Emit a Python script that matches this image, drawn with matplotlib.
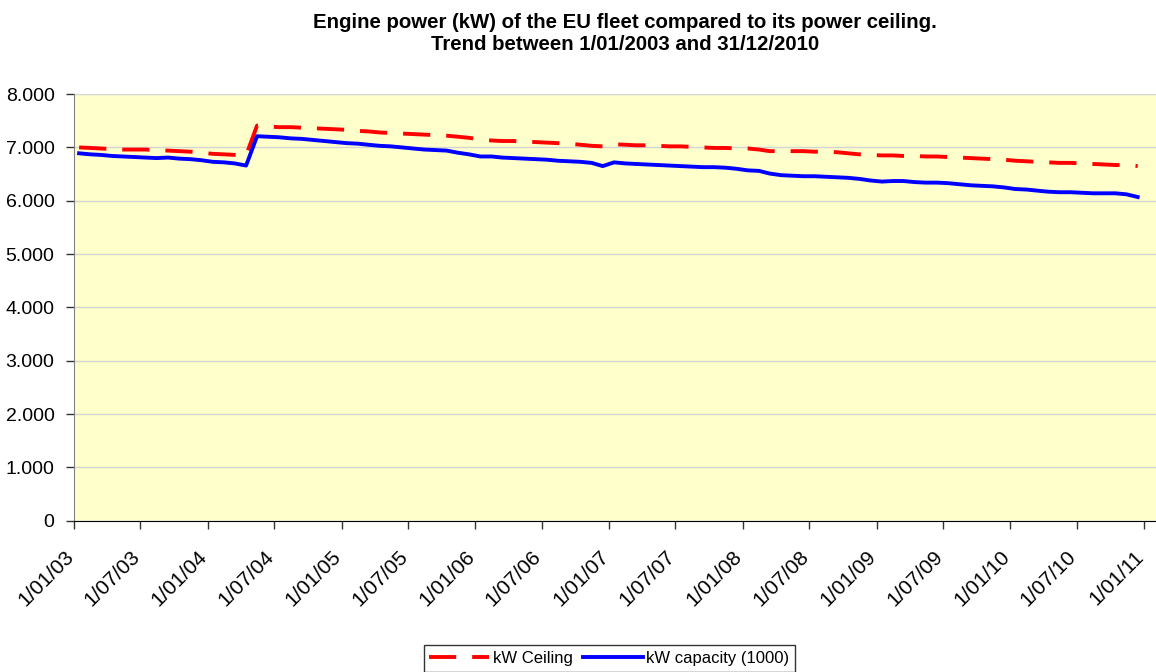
import numpy as np
import pandas as pd
import matplotlib
matplotlib.use('Agg')
import matplotlib.pyplot as plt
import matplotlib.dates as mdates
import matplotlib.ticker as mticker
import matplotlib.transforms as mtrans

plt.rcParams['font.family'] = ['Liberation Sans', 'DejaVu Sans']

# monthly values, Jan 2003 .. Dec 2010 (in 1000 kW), plotted mid-month
months = pd.date_range('2003-01-01', periods=96, freq='MS') + pd.Timedelta(days=14)

ceiling = [
    7000, 6990, 6980, 6970, 6960, 6960, 6960, 6950, 6940, 6930, 6920, 6900,
    6880, 6870, 6860, 6850, 7410, 7390, 7380, 7380, 7370, 7360, 7350, 7340,
    7330, 7310, 7300, 7280, 7270, 7260, 7250, 7240, 7230, 7220, 7200, 7180,
    7150, 7130, 7120, 7120, 7110, 7100, 7090, 7080, 7070, 7050, 7030, 7020,
    7060, 7050, 7040, 7040, 7030, 7020, 7020, 7010, 7000, 6990, 6990, 6980,
    6980, 6960, 6930, 6930, 6930, 6930, 6920, 6920, 6910, 6890, 6870, 6860,
    6850, 6850, 6840, 6840, 6830, 6830, 6820, 6810, 6800, 6790, 6780, 6770,
    6750, 6740, 6730, 6720, 6710, 6710, 6700, 6690, 6680, 6670, 6670, 6650,
]
capacity = [
    6890, 6870, 6860, 6840, 6830, 6820, 6810, 6800, 6810, 6790, 6780, 6760,
    6730, 6720, 6700, 6660, 7210, 7200, 7190, 7170, 7160, 7140, 7120, 7100,
    7080, 7070, 7050, 7030, 7020, 7000, 6980, 6960, 6950, 6940, 6900, 6870,
    6830, 6830, 6810, 6800, 6790, 6780, 6770, 6750, 6740, 6730, 6710, 6650,
    6720, 6700, 6690, 6680, 6670, 6660, 6650, 6640, 6630, 6630, 6620, 6600,
    6570, 6560, 6510, 6480, 6470, 6460, 6460, 6450, 6440, 6430, 6410, 6380,
    6360, 6370, 6370, 6350, 6340, 6340, 6330, 6310, 6290, 6280, 6270, 6250,
    6220, 6210, 6190, 6170, 6160, 6160, 6150, 6140, 6140, 6140, 6120, 6070,
]

title = ('Engine power (kW) of the EU fleet compared to its power ceiling.\n'
         'Trend between 1/01/2003 and 31/12/2010')

fig = plt.figure(figsize=(11.56, 6.72), dpi=100)
ax = fig.add_axes([0.064, 0.225, 0.936, 0.635])
ax.set_facecolor('#FFFFCC')

ax.plot(months, ceiling, color='#FF0000', lw=2.8, dashes=(7, 4.1),
        label='kW Ceiling')
ax.plot(months, capacity, color='#0000FF', lw=2.8, label='kW capacity (1000)')

ax.set_ylim(0, 8000)
ax.yaxis.set_major_locator(mticker.MultipleLocator(1000))
ax.yaxis.set_major_formatter(mticker.FuncFormatter(
    lambda v, p: '{:,.0f}'.format(v).replace(',', '.')))
ax.grid(axis='y', color='#D4D4D4', lw=1)
ax.set_axisbelow(True)

ax.set_xlim(pd.Timestamp('2003-01-01'), pd.Timestamp('2011-02-03'))
ticks = pd.date_range('2003-01-01', '2011-01-01', freq='6MS')
ax.set_xticks(ticks)
ax.set_xticklabels(['1/%02d/%s' % (t.month, t.strftime('%y')) for t in ticks])
ax.tick_params(axis='y', labelsize=14, direction='out', length=6,
               color='#333333', width=1, pad=8)
ax.tick_params(axis='x', labelsize=15, direction='out', length=6,
               color='#333333', width=1, pad=13)
shift = mtrans.ScaledTranslation(-10 / 100, 0, fig.dpi_scale_trans)
for lab in ax.get_xticklabels():
    lab.set_rotation(45)
    lab.set_ha('right')
    lab.set_va('top')
    lab.set_rotation_mode('anchor')
    lab.set_transform(lab.get_transform() + shift)

for s in ['top', 'right']:
    ax.spines[s].set_visible(False)
ax.spines['left'].set_color('#808080')
ax.spines['bottom'].set_color('#000000')

fig.text(0.541, 0.950, title, fontsize=14.7, fontweight='bold',
         ha='center', va='center', linespacing=1.2)

leg = fig.legend(loc='upper center', bbox_to_anchor=(0.527, 0.040), ncol=2,
                 fontsize=12, frameon=True, fancybox=False, handlelength=3.6,
                 handletextpad=0.2, columnspacing=0.6, borderpad=0.35,
                 borderaxespad=0)
leg.get_frame().set_edgecolor('black')
leg.get_frame().set_linewidth(1)

fig.savefig('out.png', dpi=100)
